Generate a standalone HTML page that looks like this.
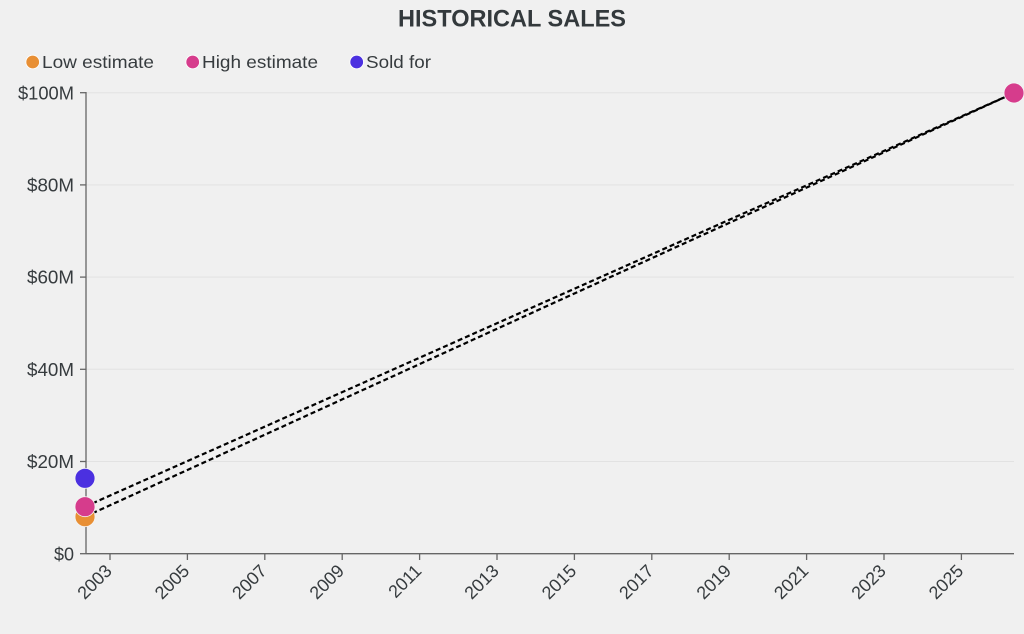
<!DOCTYPE html>
<html><head><meta charset="utf-8"><style>
html,body{margin:0;padding:0;background:#f0f0f0;}
svg{display:block;font-family:"Liberation Sans",sans-serif;}
</style></head><body>
<svg width="1024" height="634" viewBox="0 0 1024 634" xmlns="http://www.w3.org/2000/svg">
<rect width="1024" height="634" fill="#f0f0f0"/>
<text x="512" y="26.5" text-anchor="middle" font-size="24" font-weight="bold" fill="#33393c" textLength="228" lengthAdjust="spacingAndGlyphs">HISTORICAL SALES</text>
<g font-size="17.5" fill="#363b3e">
<circle cx="32.7" cy="62" r="6.8" fill="#e88f34" stroke="#fff" stroke-width="0.8"/>
<text x="42" y="68" textLength="112" lengthAdjust="spacingAndGlyphs">Low estimate</text>
<circle cx="192.7" cy="62" r="6.8" fill="#d63c8c" stroke="#fff" stroke-width="0.8"/>
<text x="202" y="68" textLength="116" lengthAdjust="spacingAndGlyphs">High estimate</text>
<circle cx="356.7" cy="62" r="6.8" fill="#4b30e0" stroke="#fff" stroke-width="0.8"/>
<text x="366" y="68" textLength="65" lengthAdjust="spacingAndGlyphs">Sold for</text>
</g>
<g stroke="#e2e2e2" stroke-width="1">
<line x1="86" y1="92.7" x2="1014" y2="92.7"/>
<line x1="86" y1="184.9" x2="1014" y2="184.9"/>
<line x1="86" y1="277.1" x2="1014" y2="277.1"/>
<line x1="86" y1="369.3" x2="1014" y2="369.3"/>
<line x1="86" y1="461.5" x2="1014" y2="461.5"/>
</g>
<g stroke="#666" stroke-width="1.3">
<line x1="86" y1="92" x2="86" y2="554"/>
<line x1="86" y1="553.7" x2="1014" y2="553.7"/>
<line x1="80" y1="92.7" x2="86" y2="92.7"/>
<line x1="80" y1="184.9" x2="86" y2="184.9"/>
<line x1="80" y1="277.1" x2="86" y2="277.1"/>
<line x1="80" y1="369.3" x2="86" y2="369.3"/>
<line x1="80" y1="461.5" x2="86" y2="461.5"/>
<line x1="80" y1="553.7" x2="86" y2="553.7"/>
<line x1="110" y1="553.7" x2="110" y2="560"/>
<line x1="187.4" y1="553.7" x2="187.4" y2="560"/>
<line x1="264.8" y1="553.7" x2="264.8" y2="560"/>
<line x1="342.2" y1="553.7" x2="342.2" y2="560"/>
<line x1="419.6" y1="553.7" x2="419.6" y2="560"/>
<line x1="497" y1="553.7" x2="497" y2="560"/>
<line x1="574.4" y1="553.7" x2="574.4" y2="560"/>
<line x1="651.8" y1="553.7" x2="651.8" y2="560"/>
<line x1="729.2" y1="553.7" x2="729.2" y2="560"/>
<line x1="806.6" y1="553.7" x2="806.6" y2="560"/>
<line x1="884" y1="553.7" x2="884" y2="560"/>
<line x1="961.4" y1="553.7" x2="961.4" y2="560"/>
</g>
<g font-size="18" fill="#363b3e" text-anchor="end">
<text x="74" y="99.3" textLength="56" lengthAdjust="spacingAndGlyphs">$100M</text>
<text x="74" y="191.5" textLength="47" lengthAdjust="spacingAndGlyphs">$80M</text>
<text x="74" y="283.7" textLength="47" lengthAdjust="spacingAndGlyphs">$60M</text>
<text x="74" y="375.9" textLength="47" lengthAdjust="spacingAndGlyphs">$40M</text>
<text x="74" y="468.1" textLength="47" lengthAdjust="spacingAndGlyphs">$20M</text>
<text x="74" y="560.3">$0</text>
</g>
<g font-size="18" fill="#363b3e" text-anchor="end">
<text transform="translate(113,572) rotate(-45)" textLength="40" lengthAdjust="spacingAndGlyphs">2003</text>
<text transform="translate(190.4,572) rotate(-45)" textLength="40" lengthAdjust="spacingAndGlyphs">2005</text>
<text transform="translate(267.8,572) rotate(-45)" textLength="40" lengthAdjust="spacingAndGlyphs">2007</text>
<text transform="translate(345.2,572) rotate(-45)" textLength="40" lengthAdjust="spacingAndGlyphs">2009</text>
<text transform="translate(422.6,572) rotate(-45)" textLength="38" lengthAdjust="spacingAndGlyphs">2011</text>
<text transform="translate(500,572) rotate(-45)" textLength="40" lengthAdjust="spacingAndGlyphs">2013</text>
<text transform="translate(577.4,572) rotate(-45)" textLength="40" lengthAdjust="spacingAndGlyphs">2015</text>
<text transform="translate(654.8,572) rotate(-45)" textLength="40" lengthAdjust="spacingAndGlyphs">2017</text>
<text transform="translate(732.2,572) rotate(-45)" textLength="40" lengthAdjust="spacingAndGlyphs">2019</text>
<text transform="translate(809.6,572) rotate(-45)" textLength="40" lengthAdjust="spacingAndGlyphs">2021</text>
<text transform="translate(887,572) rotate(-45)" textLength="40" lengthAdjust="spacingAndGlyphs">2023</text>
<text transform="translate(964.4,572) rotate(-45)" textLength="40" lengthAdjust="spacingAndGlyphs">2025</text>
</g>
<g stroke="#000" stroke-width="2.2" stroke-dasharray="5,3" fill="none">
<line x1="85" y1="506.7" x2="1014" y2="93"/>
<line x1="85" y1="516.7" x2="1014" y2="93"/>
</g>
<g stroke="#f4f4f4" stroke-width="0.8">
<circle cx="85" cy="478.3" r="10" fill="#4b30e0"/>
<circle cx="85" cy="516.7" r="10" fill="#e88f34"/>
<circle cx="85" cy="506.7" r="10" fill="#d63c8c"/>
<circle cx="1014" cy="93" r="10" fill="#d63c8c"/>
</g>
</svg>
</body></html>
